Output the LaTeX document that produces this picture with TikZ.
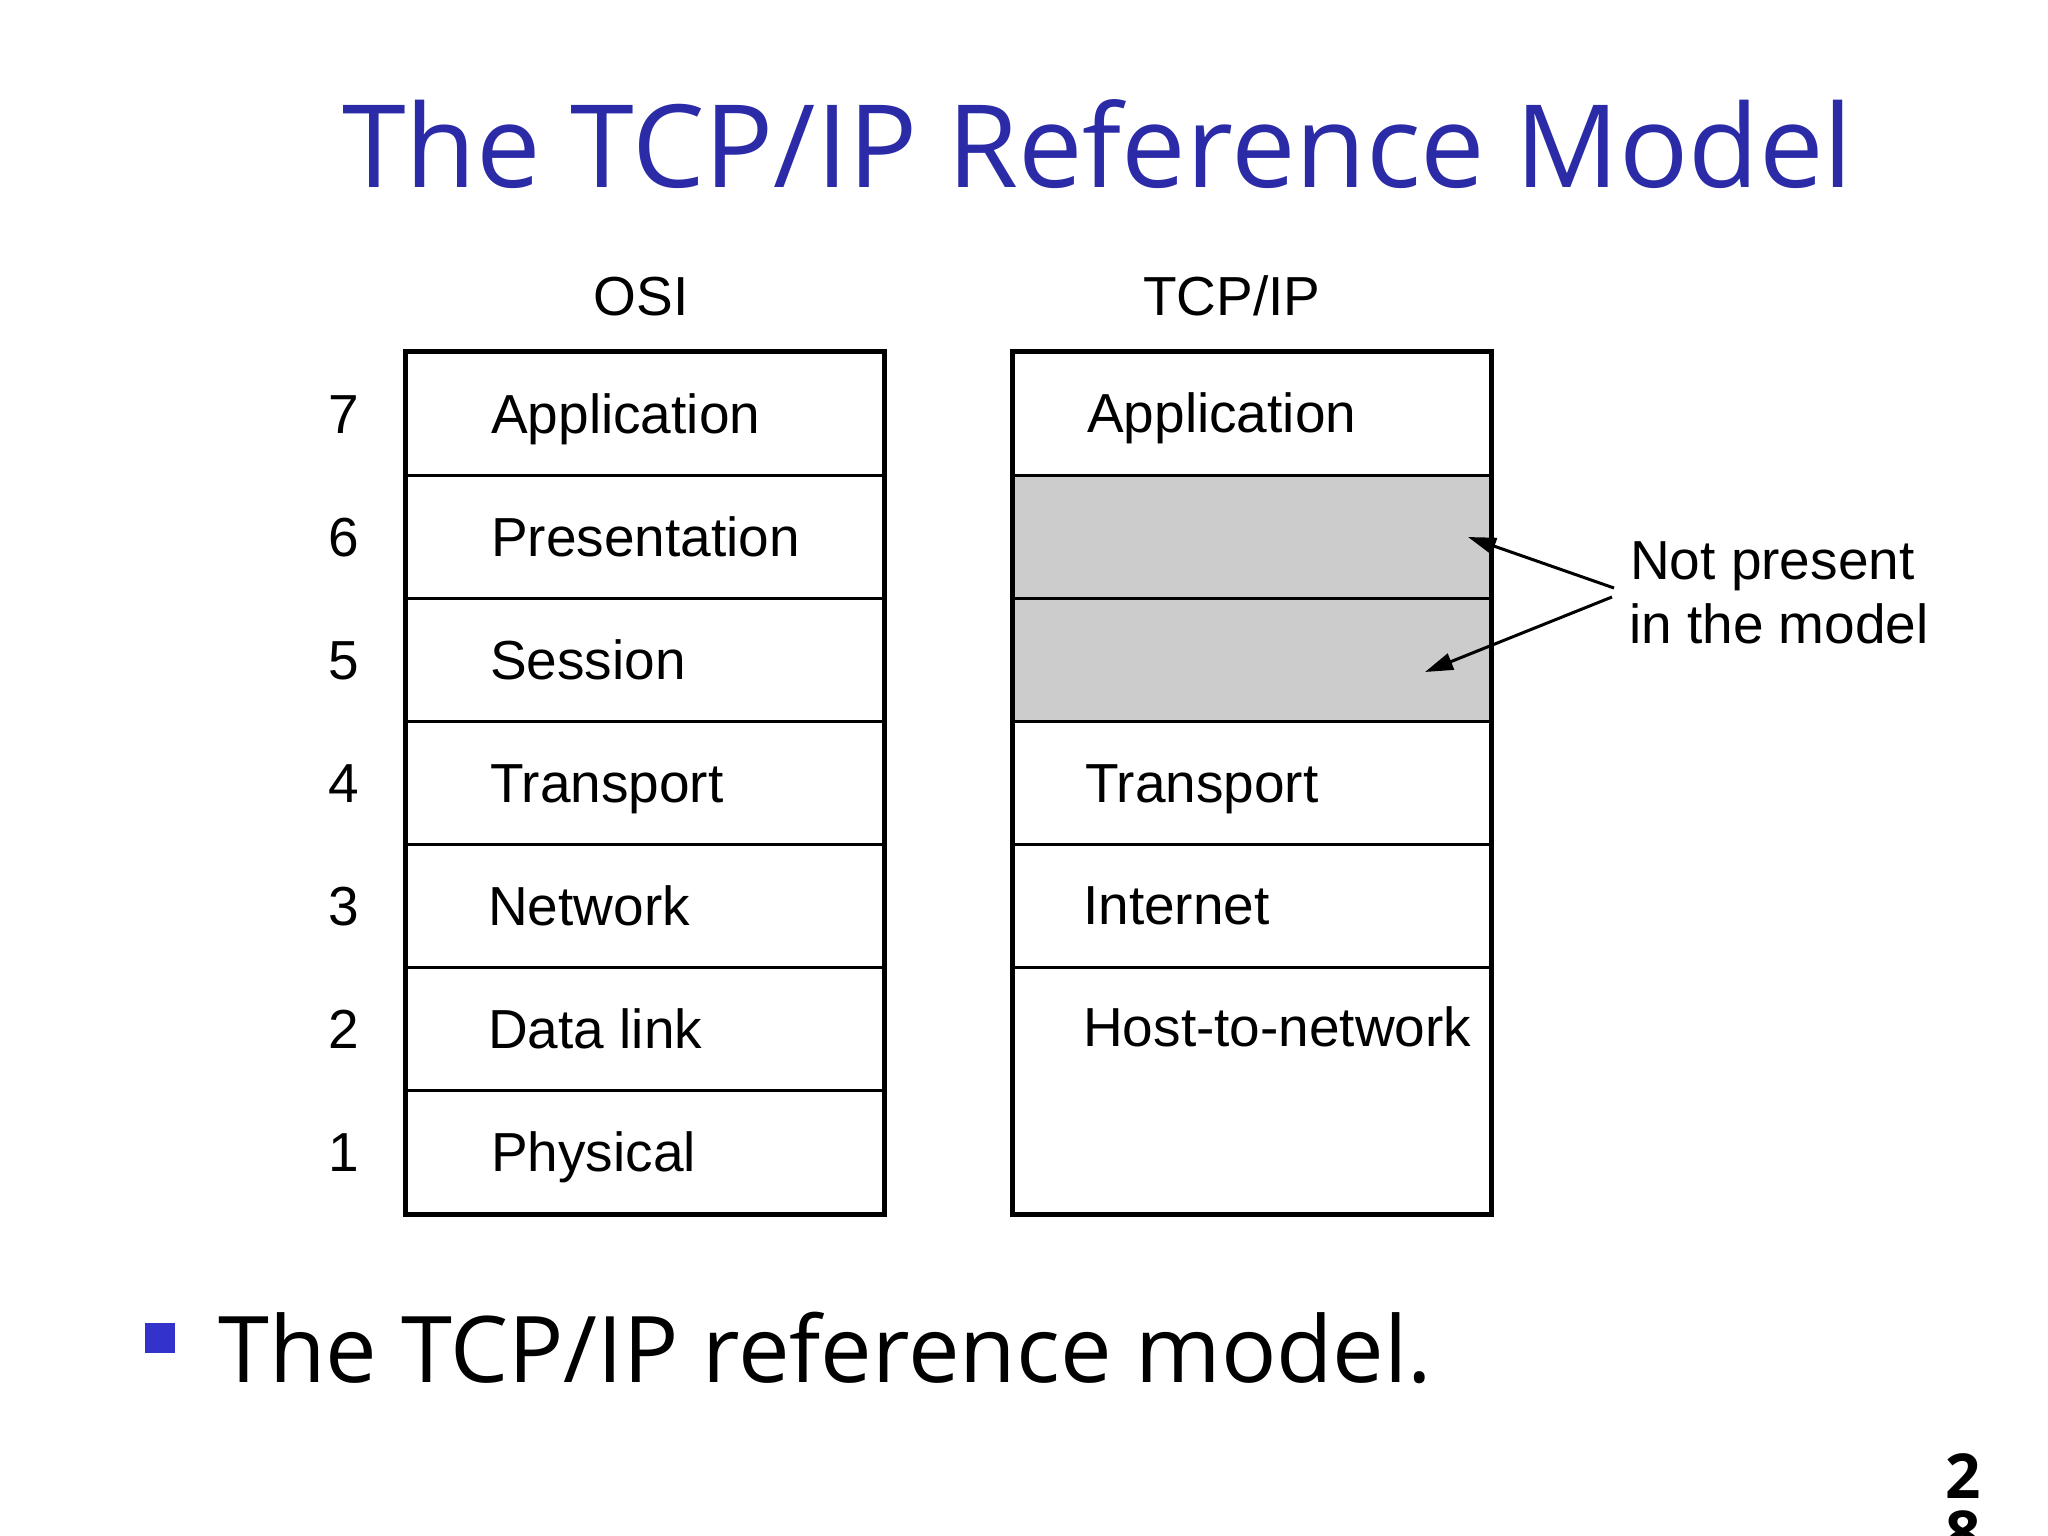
\documentclass[tikz,border=0pt]{standalone}
\usepackage{fontspec}
\setmainfont{Liberation Sans}
\newfontfamily\slidefont{Open Sans}
\usetikzlibrary{arrows.meta}
\definecolor{titleblue}{RGB}{43,43,168}
\definecolor{bulletblue}{RGB}{51,51,204}
\definecolor{gapgray}{RGB}{204,204,204}
\tikzset{
  layerbox/.style={draw, line width=3pt, rectangle, minimum width=477pt, minimum height=123pt, anchor=north west, inner sep=0pt},
  gapbox/.style={layerbox, fill=gapgray},
  lbl/.style={anchor=base west, inner sep=0pt, font=\fontsize{55}{66}\selectfont},
  num/.style={anchor=base, inner sep=0pt, font=\fontsize{55}{66}\selectfont},
  hdr/.style={anchor=base, inner sep=0pt, font=\fontsize{55}{66}\selectfont},
  pointer/.style={line width=3pt, -{Triangle[length=28pt, width=17pt]}}
}
\begin{document}
\begin{tikzpicture}[x=1pt, y=-1pt]
\useasboundingbox (0,0) rectangle (2048,1536);
\fill[white] (0,0) rectangle (2048,1536);

% title
\node[anchor=base west, inner sep=0pt, text=titleblue, font=\slidefont\fontsize{115}{136}\selectfont] (title) at (342,187) {The TCP/IP Reference Model};

% headers
\node[hdr] (hosi) at (641,315) {OSI};
\node[hdr] (htcp) at (1232,315) {TCP/IP};

% OSI stack
\node[layerbox] (o7) at (405,351) {};
\node[layerbox] (o6) at (405,474) {};
\node[layerbox] (o5) at (405,597) {};
\node[layerbox] (o4) at (405,720) {};
\node[layerbox] (o3) at (405,843) {};
\node[layerbox] (o2) at (405,966) {};
\node[layerbox] (o1) at (405,1089) {};
\draw[line width=3.5pt] (o7.north west) rectangle (o1.south east);

\node[lbl] (lo7) at (491,433) {Application};
\node[lbl] (lo6) at (491,556) {Presentation};
\node[lbl] (lo5) at (490,679) {Session};
\node[lbl] (lo4) at (490,802) {Transport};
\node[lbl] (lo3) at (488,925) {Network};
\node[lbl] (lo2) at (488,1048) {Data link};
\node[lbl] (lo1) at (491,1171) {Physical};

\node[num] (n7) at (344,433) {7};
\node[num] (n6) at (344,556) {6};
\node[num] (n5) at (344,679) {5};
\node[num] (n4) at (344,802) {4};
\node[num] (n3) at (344,925) {3};
\node[num] (n2) at (344,1048) {2};
\node[num] (n1) at (344,1171) {1};

% TCP/IP stack
\node[layerbox] (t7) at (1012,351) {};
\node[gapbox] (t6) at (1012,474) {};
\node[gapbox] (t5) at (1012,597) {};
\node[layerbox] (t4) at (1012,720) {};
\node[layerbox] (t3) at (1012,843) {};
\node[layerbox, minimum height=246pt] (t21) at (1012,966) {};
\draw[line width=3.5pt] (t7.north west) rectangle (t21.south east);

\node[lbl] (lt7) at (1087,432) {Application};
\node[lbl] (lt4) at (1085,802) {Transport};
\node[lbl] (lt3) at (1083,924) {Internet};
\node[lbl] (lt2) at (1083,1046) {Host-to-network};

% note
\node[lbl] (note1) at (1630,579) {Not present};
\node[lbl] (note2) at (1629,643) {in the model};
\coordinate (s1) at (1614,588);
\coordinate (s2) at (1612,597);
\coordinate (e1) at (1468,537);
\coordinate (e2) at (1425,672);
\draw[pointer] (s1) -- (e1);
\draw[pointer] (s2) -- (e2);

% bullet
\node[fill=bulletblue, minimum size=30pt, inner sep=0pt, anchor=north west] (bul) at (145,1323) {};
\node[anchor=base west, inner sep=0pt, font=\slidefont\fontsize{92}{110}\selectfont] (btext) at (218,1382) {The TCP/IP reference model.};

% page number
\node[anchor=base, inner sep=0pt, font=\slidefont\bfseries\fontsize{62}{62}\selectfont] (pg1) at (1963,1498) {2};
\node[anchor=base, inner sep=0pt, font=\slidefont\bfseries\fontsize{62}{62}\selectfont] (pg2) at (1963,1555) {8};
\end{tikzpicture}
\end{document}
